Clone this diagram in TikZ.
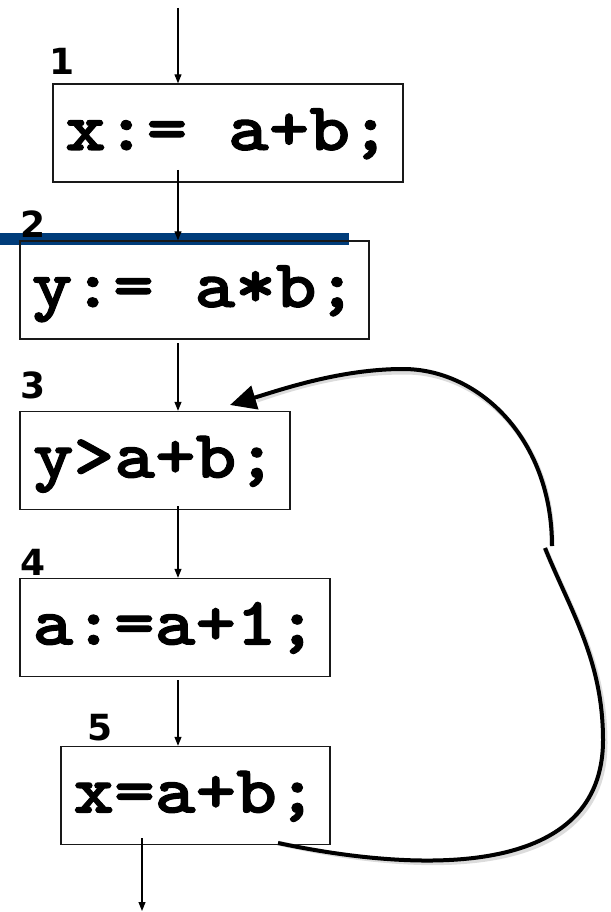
\documentclass[tikz,border=0pt]{standalone}
\usepackage{fontspec}
\newfontfamily\codefont{lmmonolt10-bold.otf}[FakeStretch=1.14,FakeBold=1.6]
\newfontfamily\labfont{DejaVu Sans}
\usetikzlibrary{arrows.meta}
\definecolor{barblue}{RGB}{0,60,122}
\begin{document}
\begin{tikzpicture}[x=1pt,y=-1pt,
  stmt/.style={draw=black!90,line width=1.4pt,inner sep=0pt,minimum height=98pt,
     font=\codefont\fontsize{68}{80}\selectfont,text height=34pt,text depth=0pt},
  num/.style={font=\labfont\bfseries\fontsize{36}{40}\selectfont,anchor=base,inner sep=0pt},
  flow/.style={line width=1.1pt,-{Triangle[length=9pt,width=7pt]}},
  loopline/.style={line width=4pt},
  shadowline/.style={line width=5pt,draw=black!30,opacity=0.45}]
\useasboundingbox (0,0) rectangle (610,912);
% blue bar
\fill[barblue] (0,233) rectangle (349,245);
% boxes
\node[stmt,minimum width=350pt] (b1) at (228,133) {x:= a+b;};
\node[stmt,minimum width=349pt] (b2) at (194.5,290) {y:= a*b;};
\node[stmt,minimum width=270pt] (b3) at (155,460.5) {y>a+b;};
\node[stmt,minimum width=310pt] (b4) at (175,627.5) {a:=a+1;};
\node[stmt,minimum width=269pt] (b5) at (195.5,795.5) {x=a+b;};
% labels
\node[num] (n1) at (62.5,75) {1};
\node[num] (n2) at (33,237) {2};
\node[num] (n3) at (33.5,398) {3};
\node[num] (n4) at (33.5,575) {4};
\node[num] (n5) at (100,740) {5};
% straight flow arrows
\coordinate (in) at (178,8);
\coordinate (s12) at (178,170);
\coordinate (s23) at (178,343);
\coordinate (s34) at (178,506);
\coordinate (s45) at (178,680);
\coordinate (sout) at (142,838);
\coordinate (eout) at (142,911);
\draw[flow] (in) -- (in |- b1.north);
\draw[flow] (s12) -- (s12 |- b2.north);
\draw[flow] (s23) -- (s23 |- b3.north);
\draw[flow] (s34) -- (s34 |- b4.north);
\draw[flow] (s45) -- (s45 |- b5.north);
\draw[flow] (sout) -- (eout);
% loop back
\coordinate (lpA) at (278,843);
\coordinate (lpK1) at (545,548);
\coordinate (lpK2) at (552,546);
\coordinate (lpE) at (230,405);
\begin{scope}[shift={(2,3)}]
\draw[shadowline] (lpA) .. controls (430,875) and (603,875) .. (603,740) .. controls (603,660) and (570,610) .. (lpK1);
\draw[shadowline] (lpK2) .. controls (552,440) and (480,369) .. (403,369) .. controls (340,369) and (290,385) .. (255,397);
\end{scope}
\draw[loopline] (lpA) .. controls (430,875) and (603,875) .. (603,740) .. controls (603,660) and (570,610) .. (lpK1);
\draw[loopline,-{Triangle[length=26pt,width=24pt]}] (lpK2) .. controls (552,440) and (480,369) .. (403,369) .. controls (340,369) and (280,390) .. (lpE);
\end{tikzpicture}
\end{document}
